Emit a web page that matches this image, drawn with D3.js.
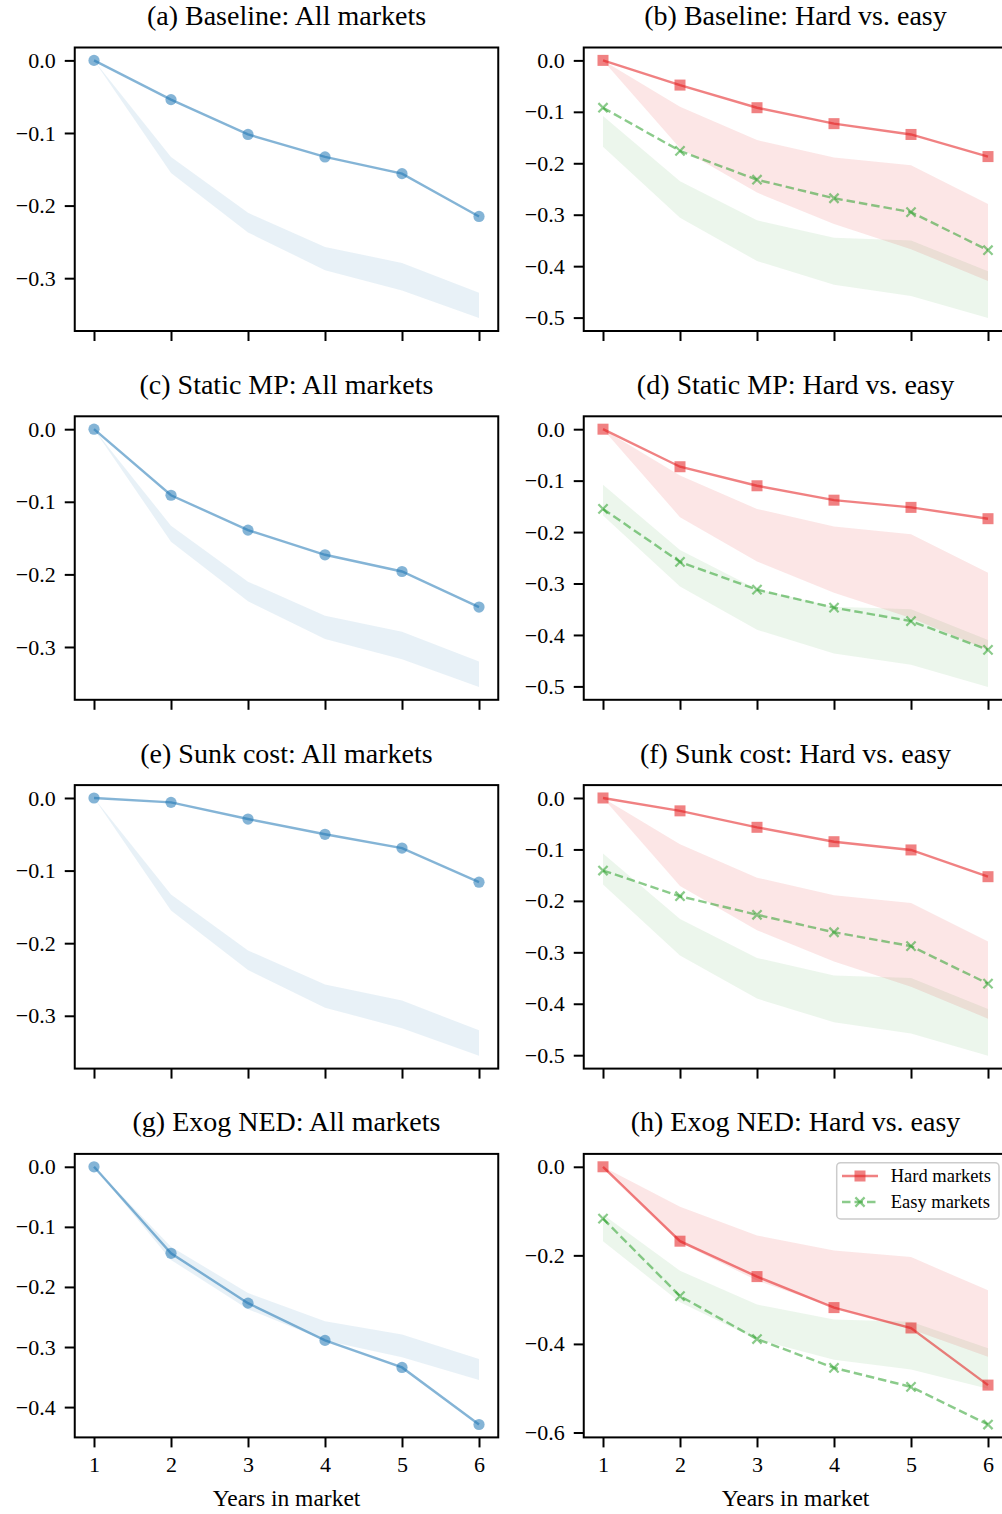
<!DOCTYPE html>
<html>
<head>
<meta charset="utf-8">
<script src="https://cdn.jsdelivr.net/npm/d3@7"></script>
<style>
  body { margin: 0; background: #fff; }
  svg { display: block; }
  text { font-family: "Liberation Serif", "DejaVu Serif", serif; fill: #000; }
</style>
</head>
<body>
<svg id="chart" width="1002" height="1514"></svg>
<script>
// x values
var years = [1, 2, 3, 4, 5, 6];

// shaded bands (same in every panel of a column)
var bandAllHi  = [0, -0.133, -0.210, -0.257, -0.279, -0.320];
var bandAllLo  = [0, -0.155, -0.237, -0.289, -0.317, -0.355];
var bandHardHi = [0, -0.090, -0.155, -0.189, -0.204, -0.279];
var bandHardLo = [0, -0.171, -0.257, -0.318, -0.367, -0.429];
var bandEasyHi = [-0.108, -0.235, -0.311, -0.345, -0.350, -0.410];
var bandEasyLo = [-0.168, -0.306, -0.390, -0.436, -0.458, -0.501];

// model lines
var baselineAll  = [0, -0.054, -0.102, -0.133, -0.156, -0.215];
var staticAll    = [0, -0.091, -0.139, -0.173, -0.196, -0.245];
var sunkAll      = [0, -0.006, -0.029, -0.050, -0.069, -0.116];
var exogAll      = [0, -0.144, -0.227, -0.289, -0.334, -0.429];
var baselineHard = [0, -0.048, -0.092, -0.123, -0.144, -0.187];
var baselineEasy = [-0.092, -0.176, -0.232, -0.268, -0.295, -0.369];
var staticHard   = [0, -0.073, -0.110, -0.138, -0.152, -0.174];
var staticEasy   = [-0.155, -0.258, -0.312, -0.347, -0.373, -0.429];
var sunkHard     = [0, -0.025, -0.057, -0.085, -0.101, -0.153];
var sunkEasy     = [-0.141, -0.191, -0.227, -0.261, -0.288, -0.361];
var exogHard     = [0, -0.168, -0.248, -0.318, -0.364, -0.493];
var exogEasy     = [-0.117, -0.292, -0.389, -0.454, -0.497, -0.582];

var titles = [
  "(a) Baseline: All markets", "(b) Baseline: Hard vs. easy",
  "(c) Static MP: All markets", "(d) Static MP: Hard vs. easy",
  "(e) Sunk cost: All markets", "(f) Sunk cost: Hard vs. easy",
  "(g) Exog NED: All markets", "(h) Exog NED: Hard vs. easy"
];

// tick values
var xTicks = [1, 2, 3, 4, 5, 6];
var yTicksAll = [0, -0.1, -0.2, -0.3];
var yTicksAllExog = [0, -0.1, -0.2, -0.3, -0.4];
var yTicksSplit = [0, -0.1, -0.2, -0.3, -0.4, -0.5];
var yTicksSplitExog = [0, -0.2, -0.4, -0.6];

var legendLabels = ["Hard markets", "Easy markets"];

// colours
var cBlue = "#1f77b4", cRed = "#e41a1c", cGreen = "#2ca02c";
var lineAlpha = 0.55;

// layout
var colX = [74.75, 583.75];
var rowY0 = 47.5, rowStep = 368.8;
var axW = 423.5, axH = 283.5;

var svg = d3.select("#chart");

var panels = [
  {t: 0, kind: "all", lines: [baselineAll], ticks: yTicksAll},
  {t: 1, kind: "split", lines: [baselineHard, baselineEasy], ticks: yTicksSplit},
  {t: 2, kind: "all", lines: [staticAll], ticks: yTicksAll},
  {t: 3, kind: "split", lines: [staticHard, staticEasy], ticks: yTicksSplit},
  {t: 4, kind: "all", lines: [sunkAll], ticks: yTicksAll},
  {t: 5, kind: "split", lines: [sunkHard, sunkEasy], ticks: yTicksSplit},
  {t: 6, kind: "all", lines: [exogAll], ticks: yTicksAllExog},
  {t: 7, kind: "split", lines: [exogHard, exogEasy], ticks: yTicksSplitExog}
];

function fmt(v) {
  return d3.format(".1f")(v).replace("-", "\u2212");
}

function drawMarker(g, type, color, x, y) {
  if (type == "circle") {
    g.append("circle").attr("cx", x).attr("cy", y).attr("r", 5.6)
      .attr("fill", color).attr("fill-opacity", lineAlpha);
  } else if (type == "square") {
    g.append("rect").attr("x", x - 5.5).attr("y", y - 5.5)
      .attr("width", 11).attr("height", 11)
      .attr("fill", color).attr("fill-opacity", lineAlpha);
  } else {
    var s = 4.6;
    g.append("path")
      .attr("d", "M" + (x - s) + "," + (y - s) + "L" + (x + s) + "," + (y + s) +
                 "M" + (x - s) + "," + (y + s) + "L" + (x + s) + "," + (y - s))
      .attr("stroke", color).attr("stroke-opacity", lineAlpha)
      .attr("stroke-width", 2.2).attr("fill", "none");
  }
}

panels.forEach(function(p, i) {
  var col = i % 2, row = Math.floor(i / 2);
  var left = colX[col], top = rowY0 + row * rowStep;
  var bands = p.kind == "all"
    ? [[bandAllLo, bandAllHi, cBlue, 0.1]]
    : [[bandEasyLo, bandEasyHi, cGreen, 0.09], [bandHardLo, bandHardHi, cRed, 0.11]];

  // matplotlib-style 5% margins
  var vals = [];
  p.lines.forEach(function(l) { vals = vals.concat(l); });
  bands.forEach(function(b) { vals = vals.concat(b[0], b[1]); });
  var lo = d3.min(vals), hi = d3.max(vals), pad = 0.05 * (hi - lo);

  var x = d3.scaleLinear().domain([0.75, 6.25]).range([left, left + axW]);
  var y = d3.scaleLinear().domain([lo - pad, hi + pad]).range([top + axH, top]);

  var g = svg.append("g");

  bands.forEach(function(b) {
    var area = d3.area()
      .x(function(d, k) { return x(years[k]); })
      .y0(function(d, k) { return y(b[0][k]); })
      .y1(function(d, k) { return y(b[1][k]); });
    g.append("path").datum(years).attr("d", area)
      .attr("fill", b[2]).attr("fill-opacity", b[3]);
  });

  var styles = p.kind == "all"
    ? [{c: cBlue, m: "circle", dash: null}]
    : [{c: cRed, m: "square", dash: null}, {c: cGreen, m: "x", dash: "8.5,4"}];

  p.lines.forEach(function(l, k) {
    var st = styles[k];
    var line = d3.line()
      .x(function(d, j) { return x(years[j]); })
      .y(function(d) { return y(d); });
    g.append("path").datum(l).attr("d", line)
      .attr("fill", "none").attr("stroke", st.c)
      .attr("stroke-opacity", lineAlpha).attr("stroke-width", 2.4)
      .attr("stroke-dasharray", st.dash);
    l.forEach(function(v, j) { drawMarker(g, st.m, st.c, x(years[j]), y(v)); });
  });

  // frame
  g.append("rect").attr("x", left).attr("y", top).attr("width", axW).attr("height", axH)
    .attr("fill", "none").attr("stroke", "#000").attr("stroke-width", 2);

  // y axis
  var yAxis = d3.axisLeft(y).tickValues(p.ticks).tickSize(10).tickPadding(9).tickFormat(fmt);
  var ya = g.append("g").attr("transform", "translate(" + left + ",0)").call(yAxis);
  ya.select(".domain").remove();
  ya.selectAll(".tick line").attr("stroke-width", 2);
  ya.selectAll(".tick text").attr("font-size", 22).attr("font-family", null);

  // x axis
  var xAxis = d3.axisBottom(x).tickValues(xTicks).tickSize(10).tickPadding(9)
    .tickFormat(row == 3 ? d3.format("d") : "");
  var xa = g.append("g").attr("transform", "translate(0," + (top + axH) + ")").call(xAxis);
  xa.select(".domain").remove();
  xa.selectAll(".tick line").attr("stroke-width", 2);
  xa.selectAll(".tick text").attr("font-size", 22).attr("font-family", null);

  // title
  g.append("text").attr("x", left + axW / 2).attr("y", top - 22.5)
    .attr("text-anchor", "middle").attr("font-size", 28).text(titles[p.t]);

  if (row == 3) {
    g.append("text").attr("x", left + axW / 2).attr("y", top + axH + 69)
      .attr("text-anchor", "middle").attr("font-size", 23.5).text("Years in market");
  }

  // legend in last panel
  if (i == 7) {
    var lg = g.append("g");
    lg.append("rect").attr("x", 836.7).attr("y", 1162.7).attr("width", 162.3).attr("height", 56.3)
      .attr("rx", 4).attr("fill", "#fff").attr("fill-opacity", 0.8)
      .attr("stroke", "#cccccc").attr("stroke-width", 1.5);
    legendLabels.forEach(function(lab, k) {
      var ly = 1176 + k * 26, st = styles[k];
      lg.append("line").attr("x1", 842).attr("x2", 878).attr("y1", ly).attr("y2", ly)
        .attr("stroke", st.c).attr("stroke-opacity", lineAlpha).attr("stroke-width", 2.4)
        .attr("stroke-dasharray", st.dash);
      drawMarker(lg, st.m, st.c, 860, ly);
      lg.append("text").attr("x", 890.7).attr("y", ly).attr("dy", "0.35em")
        .attr("font-size", 18.5).text(lab);
    });
  }
});
</script>
</body>
</html>
